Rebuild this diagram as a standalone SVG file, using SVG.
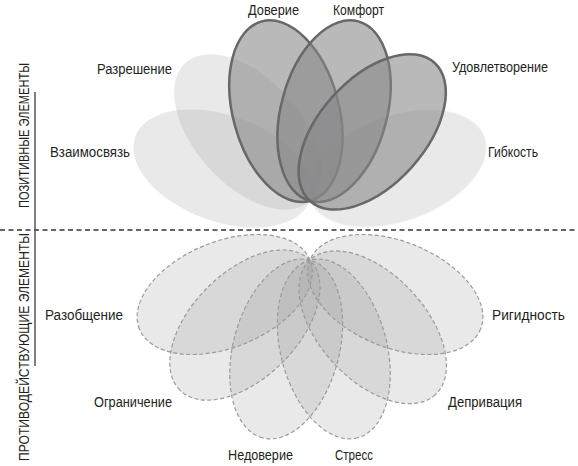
<svg xmlns="http://www.w3.org/2000/svg" width="578" height="466" viewBox="0 0 578 466">
<style>
.bg{fill:#fff}
.lt{fill:#999;fill-opacity:0.22;stroke:none}
.dk{fill:#868688;fill-opacity:0.58;stroke:#68686a;stroke-width:2.5}
.ng{fill:#999;fill-opacity:0.22;stroke:#9a9a9a;stroke-width:1.2;stroke-dasharray:4 2.5}
.lbl{font-family:"Liberation Sans",Arial,sans-serif;font-size:14px;fill:#231f20}
.side{font-family:"Liberation Sans",Arial,sans-serif;font-size:15px;fill:#231f20}
</style>
<rect class="bg" x="0" y="0" width="578" height="466"/>

<g id="positive">
  <g id="vzaimosvyaz">
    <ellipse class="lt" cx="0" cy="0" rx="93" ry="53" transform="translate(222.6,168.5) rotate(-160)"/>
    <text class="lbl" x="50" y="157" textLength="80" lengthAdjust="spacingAndGlyphs">Взаимосвязь</text>
  </g>
  <g id="razreshenie">
    <ellipse class="lt" cx="0" cy="0" rx="93" ry="53" transform="translate(247.8,131.9) rotate(-132)"/>
    <text class="lbl" x="97" y="74" textLength="75" lengthAdjust="spacingAndGlyphs">Разрешение</text>
  </g>
  <g id="gibkost">
    <ellipse class="lt" cx="0" cy="0" rx="93" ry="53" transform="translate(397.4,168.5) rotate(-20)" style="stroke:#fff;stroke-opacity:0.45;stroke-width:2"/>
    <text class="lbl" x="488" y="157" textLength="50" lengthAdjust="spacingAndGlyphs">Гибкость</text>
  </g>
  <g id="doverie">
    <ellipse class="dk" cx="0" cy="0" rx="93" ry="53" transform="translate(285.9,111.2) rotate(-105)"/>
    <text class="lbl" x="248" y="15" textLength="51" lengthAdjust="spacingAndGlyphs">Доверие</text>
  </g>
  <g id="komfort">
    <ellipse class="dk" cx="0" cy="0" rx="93" ry="53" transform="translate(334.1,111.2) rotate(-75)"/>
    <text class="lbl" x="333" y="15" textLength="51" lengthAdjust="spacingAndGlyphs">Комфорт</text>
  </g>
  <g id="udovletvorenie">
    <ellipse class="dk" cx="0" cy="0" rx="93" ry="53" transform="translate(372.2,131.9) rotate(-48)"/>
    <text class="lbl" x="452" y="72" textLength="96" lengthAdjust="spacingAndGlyphs">Удовлетворение</text>
  </g>
</g>

<g id="negative">
  <g id="razobshchenie">
    <ellipse class="ng" cx="0" cy="0" rx="92" ry="53" transform="translate(224.7,294.5) rotate(158)"/>
    <text class="lbl" x="45" y="320" textLength="78" lengthAdjust="spacingAndGlyphs">Разобщение</text>
  </g>
  <g id="rigidnost">
    <ellipse class="ng" cx="0" cy="0" rx="92" ry="53" transform="translate(395.3,294.5) rotate(22)"/>
    <text class="lbl" x="492" y="320" textLength="73" lengthAdjust="spacingAndGlyphs">Ригидность</text>
  </g>
  <g id="ogranichenie">
    <ellipse class="ng" cx="0" cy="0" rx="92" ry="53" transform="translate(244.9,325.1) rotate(135)"/>
    <text class="lbl" x="94" y="407" textLength="78" lengthAdjust="spacingAndGlyphs">Ограничение</text>
  </g>
  <g id="deprivatsiya">
    <ellipse class="ng" cx="0" cy="0" rx="92" ry="53" transform="translate(372.7,327.3) rotate(47)"/>
    <text class="lbl" x="448" y="407" textLength="74" lengthAdjust="spacingAndGlyphs">Депривация</text>
  </g>
  <g id="nedoverie">
    <ellipse class="ng" cx="0" cy="0" rx="92" ry="53" transform="translate(286.2,348.9) rotate(105)"/>
    <text class="lbl" x="228" y="460" textLength="65" lengthAdjust="spacingAndGlyphs">Недоверие</text>
  </g>
  <g id="stress">
    <ellipse class="ng" cx="0" cy="0" rx="92" ry="53" transform="translate(333.8,348.9) rotate(75)"/>
    <text class="lbl" x="335" y="460" textLength="38" lengthAdjust="spacingAndGlyphs">Стресс</text>
  </g>
</g>

<g id="connectors">
  <line x1="0" y1="230" x2="578" y2="230" stroke="#333" stroke-width="1.3" stroke-dasharray="5 3.5"/>
  <line x1="35" y1="92" x2="35" y2="366" stroke="#555" stroke-width="1.5"/>
</g>

<g id="side-labels">
  <text class="side" transform="translate(28.5,135.5) rotate(-90)" text-anchor="middle" textLength="145" lengthAdjust="spacingAndGlyphs">ПОЗИТИВНЫЕ ЭЛЕМЕНТЫ</text>
  <text class="side" transform="translate(28.5,347) rotate(-90)" text-anchor="middle" textLength="228" lengthAdjust="spacingAndGlyphs">ПРОТИВОДЕЙСТВУЮЩИЕ ЭЛЕМЕНТЫ</text>
</g>
</svg>
